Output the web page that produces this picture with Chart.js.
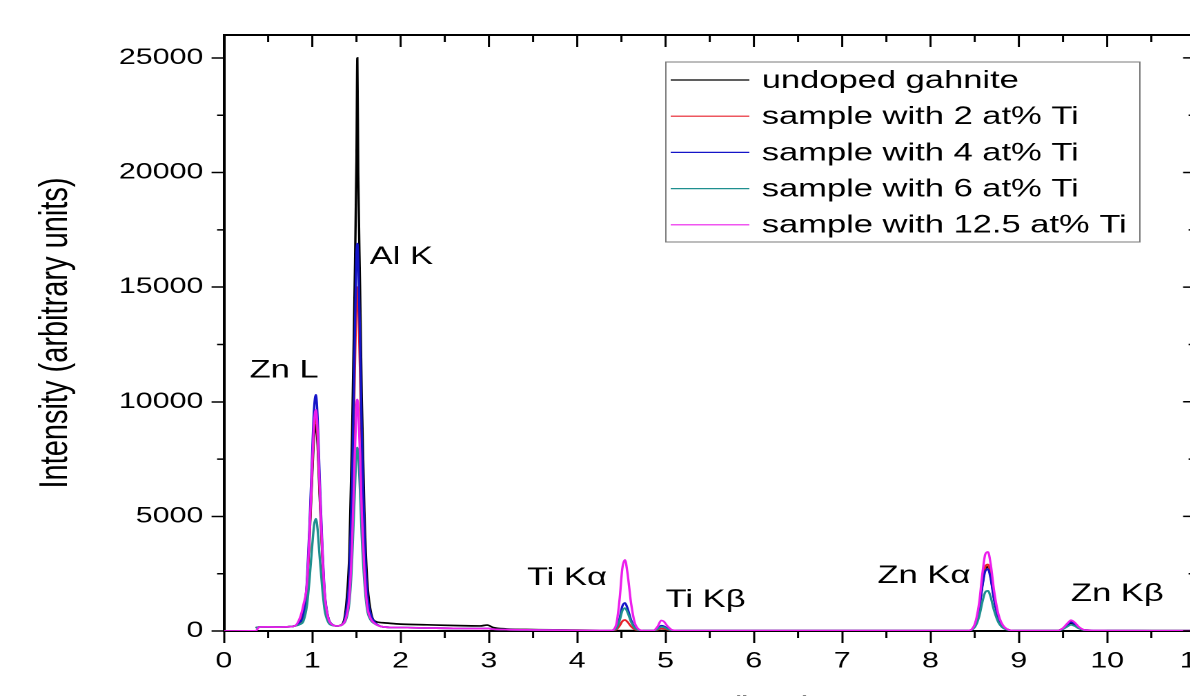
<!DOCTYPE html>
<html>
<head>
<meta charset="utf-8">
<script src="https://cdn.jsdelivr.net/npm/chart.js@4.4.1/dist/chart.umd.min.js"></script>
<style>
  html, body { margin: 0; padding: 0; background: #fff; overflow: hidden; width: 1190px; height: 696px; }
  #wrap { position: absolute; left: 0; top: 0; transform: scaleX(1.38); transform-origin: 0 0; }
</style>
</head>
<body>
<div id="wrap"><canvas id="edsChart" width="900" height="724"></canvas></div>
<script>
// EDS spectra, energy in keV
const energy = [
  0.00, 0.36, 0.40, 0.50, 0.60, 0.70, 0.80, 0.86, 0.90, 0.94,
  0.97, 1.00, 1.02, 1.04, 1.06, 1.08, 1.11, 1.14, 1.18, 1.22,
  1.28, 1.34, 1.38, 1.42, 1.45, 1.48, 1.50, 1.51, 1.52, 1.54,
  1.56, 1.59, 1.62, 1.66, 1.70, 1.80, 2.00, 2.30, 2.60, 2.90,
  2.98, 3.05, 3.20, 3.50, 4.00, 4.38, 4.44, 4.48, 4.51, 4.54,
  4.57, 4.61, 4.66, 4.75, 4.86, 4.91, 4.95, 4.98, 5.02, 5.08,
  5.20, 6.00, 7.00, 8.00, 8.42, 8.50, 8.55, 8.59, 8.62, 8.65,
  8.68, 8.72, 8.77, 8.84, 8.95, 9.20, 9.44, 9.50, 9.55, 9.59,
  9.63, 9.68, 9.75, 10.00, 10.50, 11.00, 11.40
];

const undoped = [
  null, 140, 170, 180, 170, 180, 220, 380, 640, 1960,
  4160, 6890, 8470, 9000, 8120, 6180, 3540, 1520, 550, 290,
  220, 300, 1000, 3470, 8500, 15100, 20500, 25000, 20000, 15100,
  10150, 5200, 2300, 900, 450, 360, 300, 270, 240, 220,
  260, 150, 90, 60, 40, 25, 20, 20, 20, 20,
  20, 20, 20, 20, 20, 20, 20, 20, 20, 20,
  20, 15, 15, 15, 20, 240, 990, 2100, 2720, 2800,
  2380, 1410, 575, 130, 20, 20, 20, 100, 250, 350,
  285, 135, 35, 20, 10, 10, 10
];

const ti2 = [
  null, 140, 170, 180, 170, 180, 220, 380, 1030, 2040,
  4340, 7190, 8850, 9400, 8480, 6460, 3700, 1580, 570, 290,
  220, 280, 690, 2170, 5560, 11160, 14560, 15000, 14410, 11460,
  7630, 3790, 1580, 690, 400, 180, 150, 130, 115, 105,
  110, 80, 60, 45, 30, 25, 57, 227, 425, 480,
  390, 195, 57, 20, 20, 56, 110, 100, 60, 25,
  20, 15, 15, 15, 20, 250, 1030, 2180, 2810, 2900,
  2470, 1460, 600, 135, 20, 20, 20, 120, 300, 420,
  340, 160, 40, 20, 10, 10, 10
];

const ti4 = [
  null, 140, 170, 180, 170, 180, 220, 400, 710, 2220,
  4750, 7880, 9690, 10300, 9290, 7070, 4040, 1720, 600, 300,
  220, 280, 750, 2410, 6240, 12570, 16400, 16900, 16230, 12900,
  8580, 4250, 1750, 750, 420, 180, 150, 130, 115, 105,
  110, 80, 60, 45, 30, 25, 116, 560, 1076, 1220,
  980, 476, 116, 20, 20, 105, 230, 210, 115, 30,
  20, 15, 15, 15, 20, 235, 960, 2030, 2620, 2700,
  2300, 1360, 555, 125, 20, 20, 20, 110, 270, 380,
  310, 145, 38, 20, 10, 10, 10
];

const ti6 = [
  null, 140, 170, 180, 170, 180, 220, 290, 440, 1140,
  2320, 3770, 4620, 4900, 4430, 3400, 1990, 910, 390, 250,
  220, 280, 480, 1260, 3040, 5990, 7770, 8000, 7690, 6140,
  4130, 2110, 950, 480, 330, 180, 150, 130, 115, 105,
  110, 80, 60, 45, 30, 25, 98, 461, 882, 1000,
  804, 392, 98, 20, 20, 85, 180, 165, 90, 28,
  20, 15, 15, 15, 20, 160, 625, 1320, 1700, 1750,
  1490, 885, 365, 90, 20, 20, 20, 80, 195, 270,
  220, 108, 32, 20, 10, 10, 10
];

const ti125 = [
  0, 10, 170, 180, 170, 180, 220, 580, 1150, 2090,
  4450, 7380, 9080, 9650, 8710, 6630, 3790, 1620, 580, 290,
  220, 280, 550, 1530, 3800, 7540, 9800, 10100, 9710, 7740,
  5180, 2610, 1140, 550, 350, 180, 150, 130, 115, 105,
  110, 80, 60, 45, 30, 25, 266, 1406, 2730, 3100,
  2484, 1190, 266, 20, 20, 195, 460, 415, 220, 42,
  20, 15, 15, 15, 20, 295, 1220, 2590, 3350, 3450,
  2940, 1735, 705, 155, 20, 20, 20, 130, 335, 470,
  380, 178, 42, 20, 10, 10, 10
];

const seriesNames = [
  'undoped gahnite',
  'sample with 2 at% Ti',
  'sample with 4 at% Ti',
  'sample with 6 at% Ti',
  'sample with 12.5 at% Ti'
];
const seriesValues = [undoped, ti2, ti4, ti6, ti125];
const seriesColors = ['#000000', '#e8202a', '#1414c8', '#1f8f8f', '#ec1eec'];

const xTicks = [0, 1, 2, 3, 4, 5, 6, 7, 8, 9, 10, 11];
const yTicks = [0, 5000, 10000, 15000, 20000, 25000];

// peak labels: text, energy, intensity at the label's left-middle
const peakLabels = [
  ['Zn L', 0.29, 11350],
  ['Al K', 1.65, 16300],
  ['Ti K\u03b1', 3.43, 2310],
  ['Ti K\u03b2', 5.0, 1350],
  ['Zn K\u03b1', 7.40, 2400],
  ['Zn K\u03b2', 9.59, 1610]
];

const FONT = '"Liberation Sans", Arial, sans-serif';
Chart.defaults.color = '#000';
Chart.defaults.font.family = FONT;

const datasets = seriesValues.map((vals, i) => ({
  label: seriesNames[i],
  data: energy.map((e, j) => ({ x: e, y: vals[j] })),
  borderColor: seriesColors[i],
  borderWidth: 1.7,
  pointRadius: 0,
  cubicInterpolationMode: 'monotone',
  order: 5 - i
}));

// top/right axes, minor ticks
const framePlugin = {
  id: 'frame',
  afterDraw(chart) {
    const { ctx, chartArea: a, scales: { x, y } } = chart;
    ctx.save();
    ctx.strokeStyle = '#000';
    ctx.lineWidth = 2;
    ctx.beginPath();
    ctx.moveTo(a.left, a.top);
    ctx.lineTo(a.right, a.top);
    ctx.lineTo(a.right, a.bottom);
    ctx.stroke();
    ctx.lineWidth = 1.5;
    ctx.beginPath();
    for (let v = 0; v <= 11; v += 0.5) {
      const px = x.getPixelForValue(v);
      const major = v % 1 === 0;
      ctx.moveTo(px, a.top);
      ctx.lineTo(px, a.top + (major ? 12 : 7));
      if (!major) {
        ctx.moveTo(px, a.bottom);
        ctx.lineTo(px, a.bottom + 7);
      }
    }
    for (let v = 0; v <= 26000; v += 2500) {
      const py = y.getPixelForValue(v);
      const major = v % 5000 === 0;
      ctx.moveTo(a.right, py);
      ctx.lineTo(a.right - (major ? 9 : 5), py);
      if (!major) {
        ctx.moveTo(a.left, py);
        ctx.lineTo(a.left - 5, py);
      }
    }
    ctx.stroke();
    ctx.restore();
  }
};

const peakLabelPlugin = {
  id: 'peakLabels',
  afterDatasetsDraw(chart) {
    const { ctx, scales: { x, y } } = chart;
    ctx.save();
    ctx.font = '25px ' + FONT;
    ctx.fillStyle = '#000';
    ctx.textAlign = 'left';
    ctx.textBaseline = 'middle';
    peakLabels.forEach(([text, e, v]) => {
      ctx.fillText(text, x.getPixelForValue(e), y.getPixelForValue(v));
    });
    ctx.restore();
  }
};

const boxLegendPlugin = {
  id: 'boxLegend',
  afterDraw(chart) {
    const { ctx } = chart;
    const left = 482.5, top = 62, right = 826, bottom = 242;
    ctx.save();
    ctx.fillStyle = '#fff';
    ctx.fillRect(left, top, right - left, bottom - top);
    ctx.strokeStyle = '#7a7a7a';
    ctx.lineWidth = 1;
    ctx.strokeRect(left, top, right - left, bottom - top);
    ctx.font = '25px ' + FONT;
    ctx.textBaseline = 'middle';
    seriesNames.forEach((name, i) => {
      const rowY = 80 + i * 36.2;
      ctx.strokeStyle = seriesColors[i];
      ctx.lineWidth = 1.2;
      ctx.beginPath();
      ctx.moveTo(486, rowY);
      ctx.lineTo(543, rowY);
      ctx.stroke();
      ctx.fillStyle = '#000';
      ctx.fillText(name, 552, rowY + 1);
    });
    ctx.restore();
  }
};

new Chart(document.getElementById('edsChart'), {
  type: 'line',
  data: { datasets },
  options: {
    responsive: false,
    animation: false,
    devicePixelRatio: 2,
    layout: { padding: { top: 35, right: 33.7, left: 0, bottom: 0 } },
    plugins: { legend: { display: false }, tooltip: { enabled: false } },
    scales: {
      x: {
        type: 'linear',
        min: 0,
        max: 11,
        afterBuildTicks: s => { s.ticks = xTicks.map(v => ({ value: v })); },
        afterFit: s => { s.height = 93; },
        ticks: { font: { size: 22 }, padding: 5, maxRotation: 0, autoSkip: false, callback: v => String(v) },
        grid: { drawOnChartArea: false, drawTicks: true, tickLength: 12, tickWidth: 1.5, tickColor: '#000' },
        border: { display: true, color: '#000', width: 2 },
        title: { display: true, text: 'Energy (keV)', font: { size: 26 }, padding: { top: 0, bottom: 1 } }
      },
      y: {
        min: 0,
        max: 26000,
        afterBuildTicks: s => { s.ticks = yTicks.map(v => ({ value: v })); },
        afterFit: s => { s.width = 162.3; },
        ticks: { font: { size: 22 }, padding: 6, callback: v => String(v) },
        grid: { drawOnChartArea: false, drawTicks: true, tickLength: 9, tickWidth: 1.5, tickColor: '#000' },
        border: { display: true, color: '#000', width: 2 },
        title: { display: true, text: 'Intensity (arbitrary units)', font: { size: 29 }, padding: { top: 23, bottom: 0 } }
      }
    }
  },
  plugins: [framePlugin, peakLabelPlugin, boxLegendPlugin]
});
</script>
</body>
</html>
